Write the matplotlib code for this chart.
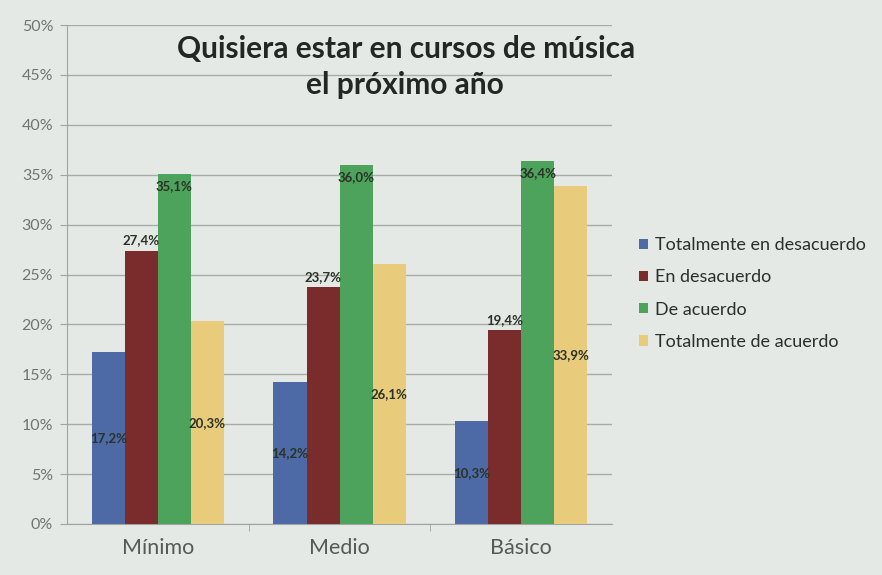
import matplotlib
matplotlib.use("Agg")
import matplotlib.pyplot as plt
import numpy as np
from matplotlib.ticker import FixedLocator

categories = ["Mínimo", "Medio", "Básico"]
series_names = ["Totalmente en desacuerdo", "En desacuerdo", "De acuerdo", "Totalmente de acuerdo"]
tot_desacuerdo = [17.2, 14.2, 10.3]
en_desacuerdo = [27.4, 23.7, 19.4]
de_acuerdo = [35.1, 36.0, 36.4]
tot_acuerdo = [20.3, 26.1, 33.9]
y_ticks = [0, 5, 10, 15, 20, 25, 30, 35, 40, 45, 50]

series = [tot_desacuerdo, en_desacuerdo, de_acuerdo, tot_acuerdo]
colors = ["#4d6aa6", "#7a2b2b", "#4ea35c", "#e9cb7c"]
label_pos = ["center", "outside", "inside_top", "center"]

plt.rcParams['font.family'] = ['Lato', 'DejaVu Sans']
bg = "#e5e9e6"
fig = plt.figure(figsize=(8.82, 5.75), dpi=100, facecolor=bg)
ax = fig.add_axes([0.076, 0.0887, 0.618, 0.8678], facecolor=bg)

x = np.arange(len(categories))
w = 0.182
for i, (vals, col, pos) in enumerate(zip(series, colors, label_pos)):
    xs = x + (i - 1.5) * w
    ax.bar(xs, vals, width=w, color=col, label=series_names[i], zorder=3)
    for xx, v in zip(xs, vals):
        txt = f"{v:.1f}%".replace(".", ",")
        kw = dict(ha="center", fontsize=9.5, fontweight="bold", color="#2a3228", zorder=4)
        if pos == "center":
            ax.text(xx, v / 2, txt, va="center", **kw)
        elif pos == "outside":
            ax.text(xx, v + 0.4, txt, va="bottom", **kw)
        else:
            ax.text(xx, v - 0.6, txt, va="top", **kw)

ax.set_xlim(-0.5, 2.5)
ax.set_ylim(0, 50)
ax.set_yticks(y_ticks)
ax.set_yticklabels([f"{t}%" for t in y_ticks], fontsize=11.5, color="#707570")
ax.yaxis.grid(True, color="#a8aca8", linewidth=1, zorder=0)
ax.set_xticks(x)
ax.set_xticklabels(categories, fontsize=15.5, color="#555a55")
ax.tick_params(axis="x", length=0, pad=10)
ax.xaxis.set_minor_locator(FixedLocator([0.5, 1.5]))
ax.tick_params(axis="x", which="minor", length=5, color="#a0a4a0")
ax.tick_params(axis="y", length=5, color="#a0a4a0", pad=5)
for s in ["top", "right"]:
    ax.spines[s].set_visible(False)
for s in ["left", "bottom"]:
    ax.spines[s].set_color("#a0a4a0")

fig.text(406 / 882, 1 - 49 / 575, "Quisiera estar en cursos de música", ha="center", va="center",
         fontsize=21.5, fontweight="bold", color="#222722")
fig.text(405 / 882, 1 - 85 / 575, "el próximo año", ha="center", va="center",
         fontsize=21.5, fontweight="bold", color="#222722")

leg = fig.legend(loc="upper left", bbox_to_anchor=(623 / 882, 1 - 221 / 575), frameon=False,
                 fontsize=13, handlelength=0.5, handleheight=0.5, handletextpad=0.35, labelspacing=0.9,
                 labelcolor="#2a2f2a")

fig.savefig("out.png", dpi=100, facecolor=bg)
